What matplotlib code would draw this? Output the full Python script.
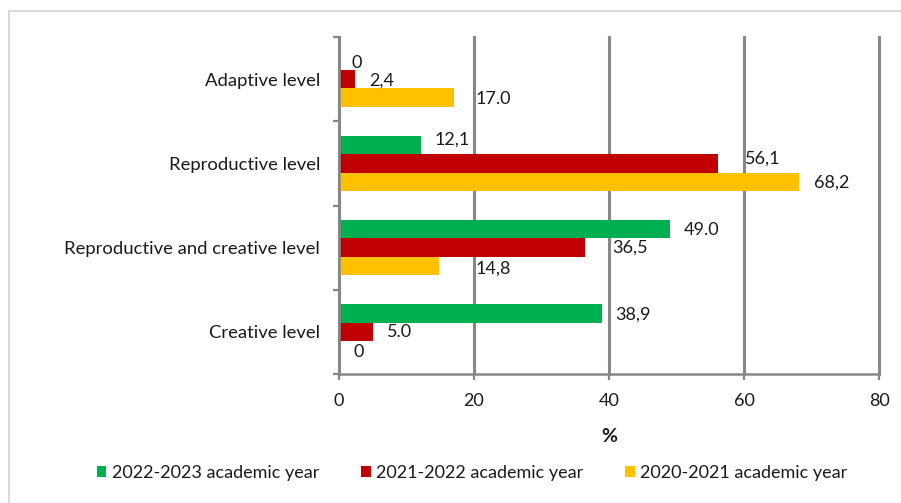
import matplotlib
matplotlib.use("Agg")
import matplotlib.pyplot as plt
import matplotlib.lines as mlines
import numpy as np

plt.rcParams["font.family"] = ["Lato", "DejaVu Sans"]

levels = ["Adaptive level", "Reproductive level", "Reproductive and creative level", "Creative level"]
years = ["2022-2023 academic year", "2021-2022 academic year", "2020-2021 academic year"]

y2022 = [0, 12.1, 49.0, 38.9]
y2021 = [2.4, 56.1, 36.5, 5.0]
y2020 = [17.0, 68.2, 14.8, 0]

lab2022 = ["0", "12,1", "49.0", "38,9"]
lab2021 = ["2,4", "56,1", "36,5", "5.0"]
lab2020 = ["17.0", "68,2", "14,8", "0"]

xticks = [0, 20, 40, 60, 80]

# label nudges in pixels (dx, dy), dy is upward
nudge2022 = [(13, -2), (14, 5), (14, -1), (14, -1)]
nudge2021 = [(14, -1.5), (27, 4.5), (27, 0), (14, 0)]
nudge2020 = [(22, -1.5), (15, -1), (37, -2), (14, -2)]

colors = ["#00B050", "#C00000", "#FFC000"]
grey = "#878787"
txt = "#1a1a1a"

fig = plt.figure(figsize=(9.01, 5.03), dpi=100)
ax = fig.add_axes([339/901, 1-374/503, 540/901, 337/503])

pos = np.arange(len(levels))
h = 0.22
series = [(y2022, lab2022, nudge2022), (y2021, lab2021, nudge2021), (y2020, lab2020, nudge2020)]
for k, (vals, labs, nud) in enumerate(series):
    yy = pos + (k - 1) * h
    ax.barh(yy, vals, height=h, color=colors[k], label=years[k], zorder=3)
    for v, y, t, (dx, dy) in zip(vals, yy, labs, nud):
        ax.annotate(t, (v, y), xytext=(dx, dy), textcoords="offset pixels",
                    ha="left", va="center", fontsize=13, color=txt, zorder=4)

ax.set_xlim(0, 80)
ax.set_ylim(3.5, -0.5)
ax.set_xticks(xticks)
ax.set_yticks(pos)
ax.set_yticklabels(levels)
ax.set_yticks(np.arange(-0.5, 4, 1), minor=True)
ax.tick_params(axis="y", which="major", length=0, pad=13.5, labelsize=13.3, labelcolor=txt)
ax.tick_params(axis="y", which="minor", length=4.5, width=1.6, color=grey, direction="out")
ax.tick_params(axis="x", which="major", length=4.5, width=1.6, color=grey, pad=9,
               labelsize=13, labelcolor=txt)

ax.grid(axis="x", color=grey, linewidth=2.2, zorder=1)
for gl in ax.get_xgridlines():
    gl.set_clip_on(False)
for s in ["top", "right"]:
    ax.spines[s].set_visible(False)
for s in ["left", "bottom"]:
    ax.spines[s].set_color(grey)
    ax.spines[s].set_linewidth(1.8)
    ax.spines[s].set_zorder(5)

ax.set_xlabel("%", fontsize=14, fontweight="bold", labelpad=14, color=txt)

leg = fig.legend(loc="center", bbox_to_anchor=(472/901, 1-473/503), ncol=3, frameon=False,
                 fontsize=13, handlelength=0.55, handleheight=0.55, handletextpad=0.3,
                 columnspacing=2.3)
for t in leg.get_texts():
    t.set_color(txt)

# thin frame round the chart area
fig.add_artist(mlines.Line2D([9/901, 1], [1-11/503, 1-11/503], color="#D9D9D9", linewidth=1.5))
fig.add_artist(mlines.Line2D([9/901, 9/901], [0, 1-11/503], color="#D9D9D9", linewidth=1.5))

fig.savefig("out.png", dpi=100)
